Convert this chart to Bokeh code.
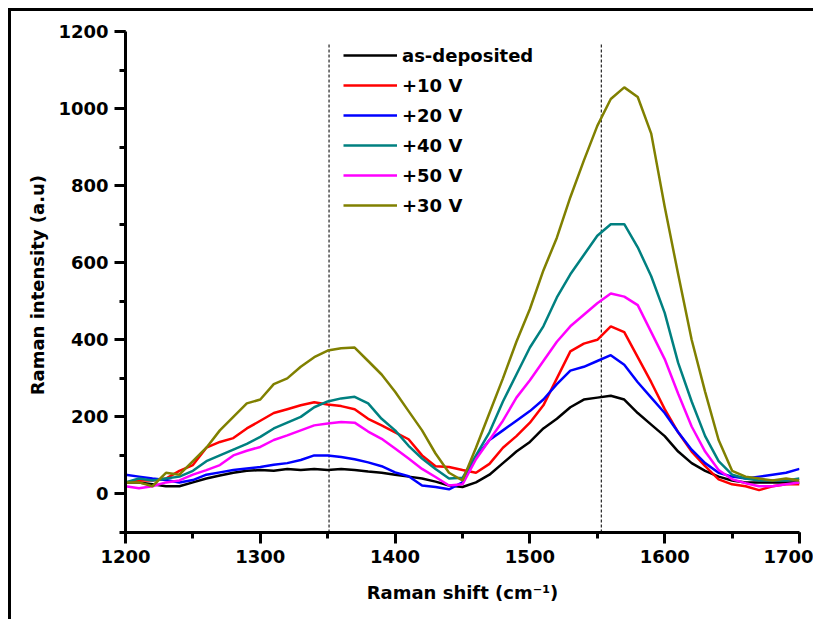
from bokeh.plotting import figure
from bokeh.models import SingleIntervalTicker, Legend, LegendItem
from bokeh.embed import file_html
from bokeh.resources import INLINE

# ---- data ----
shift = list(range(1200, 1701, 10))

as_deposited = [30, 30, 25, 20, 20, 30, 40, 48, 55, 60,
                62, 60, 65, 62, 65, 62, 65, 62, 58, 55,
                50, 45, 40, 32, 22, 18, 30, 50, 80, 110,
                135, 170, 195, 225, 245, 250, 255, 245, 210, 180,
                150, 110, 80, 60, 45, 35, 30, 30, 30, 30, 30]

v10 = [30, 35, 35, 40, 60, 75, 120, 135, 145, 170,
       190, 210, 220, 230, 238, 232, 228, 220, 195, 178,
       160, 142, 100, 72, 70, 62, 55, 78, 120, 150,
       185, 230, 300, 370, 390, 400, 435, 420, 355, 290,
       220, 160, 110, 72, 38, 25, 20, 10, 20, 25, 25]

v20 = [50, 45, 40, 36, 30, 36, 50, 56, 62, 66,
       70, 76, 80, 88, 100, 100, 96, 90, 82, 72,
       56, 46, 22, 18, 12, 30, 95, 140, 165, 190,
       215, 245, 285, 320, 330, 345, 360, 335, 290, 250,
       210, 160, 115, 80, 55, 45, 40, 45, 50, 55, 65]

v40 = [30, 40, 35, 40, 45, 60, 85, 100, 115, 130,
       148, 170, 185, 200, 225, 240, 248, 252, 235, 195,
       165, 125, 92, 65, 40, 42, 100, 160, 240, 310,
       380, 435, 510, 570, 620, 670, 700, 700, 640, 565,
       470, 340, 240, 150, 85, 50, 40, 35, 35, 35, 40]

v50 = [20, 15, 20, 30, 35, 50, 62, 75, 100, 112,
       122, 140, 152, 165, 178, 183, 187, 185, 162, 143,
       118, 92, 65, 44, 22, 25, 90, 140, 190, 250,
       295, 345, 395, 435, 465, 495, 520, 512, 490, 420,
       350, 260, 175, 110, 62, 38, 28, 20, 20, 25, 30]

v30 = [30, 30, 20, 55, 50, 85, 120, 165, 200, 235,
       245, 285, 300, 330, 355, 372, 378, 380, 345, 310,
       265, 215, 165, 105, 55, 35, 120, 210, 300, 395,
       480, 580, 665, 770, 865, 955, 1025, 1055, 1030, 935,
       745, 570, 400, 265, 140, 60, 45, 40, 35, 40, 35]

labels = ["as-deposited", "+10 V", "+20 V", "+40 V", "+50 V", "+30 V"]
colors = ["#000000", "#FF0000", "#0000FF", "#008080", "#FF00FF", "#808000"]
series = [as_deposited, v10, v20, v40, v50, v30]

peak_positions = [1351, 1553]
peak_line_ys = [-100, 1170]

x_ticks_interval = 100
y_ticks_interval = 200

FONT = "DejaVu Sans"

p = figure(width=805, height=611, x_range=(1200, 1700), y_range=(-100, 1200),
           output_backend="svg", toolbar_location=None,
           min_border_left=114, min_border_right=17,
           min_border_top=20, min_border_bottom=90)
p.styles = {"border-top": "3px solid black", "border-left": "3px solid black",
            "margin-left": "8px", "margin-top": "8px"}

p.xgrid.visible = False
p.ygrid.visible = False
p.outline_line_color = None
p.background_fill_color = "white"
p.border_fill_color = "white"

for xpos in peak_positions:
    p.line([xpos, xpos], peak_line_ys, line_color="#222222", line_width=1.2,
           line_dash="3 2")

renderers = []
for ys, c in zip(series, colors):
    r = p.line(shift, ys, line_color=c, line_width=2.5)
    renderers.append(r)

legend = Legend(items=[LegendItem(label=l, renderers=[r]) for l, r in zip(labels, renderers)],
                location=(218, 316), background_fill_alpha=0, border_line_color=None,
                padding=0, margin=0, spacing=8, glyph_width=54, glyph_height=22,
                label_standoff=5, label_text_font=FONT, label_text_font_style="bold",
                label_text_font_size="18px", label_text_color="black")
p.add_layout(legend)

for ax in (p.xaxis[0], p.yaxis[0]):
    ax.axis_line_width = 3
    ax.major_tick_line_width = 3
    ax.minor_tick_line_width = 3
    ax.major_tick_in = 0
    ax.major_tick_out = 11
    ax.minor_tick_in = 0
    ax.minor_tick_out = 6
    ax.major_label_text_font = FONT
    ax.major_label_text_font_style = "bold"
    ax.major_label_text_font_size = "18px"
    ax.major_label_text_color = "black"
    ax.axis_label_text_font = FONT
    ax.axis_label_text_font_style = "bold"
    ax.axis_label_text_font_size = "18px"
    ax.axis_label_text_color = "black"
    ax.major_label_standoff = 6

p.xaxis[0].ticker = SingleIntervalTicker(interval=x_ticks_interval, num_minor_ticks=2)
p.yaxis[0].ticker = SingleIntervalTicker(interval=y_ticks_interval, num_minor_ticks=2)
p.xaxis[0].axis_label = "Raman shift (cm\u207b\u00b9)"
p.yaxis[0].axis_label = "Raman  intensity (a.u)"
p.xaxis[0].axis_label_standoff = 16
p.yaxis[0].axis_label_standoff = 7

open("out.html", "w").write(file_html(p, INLINE))
